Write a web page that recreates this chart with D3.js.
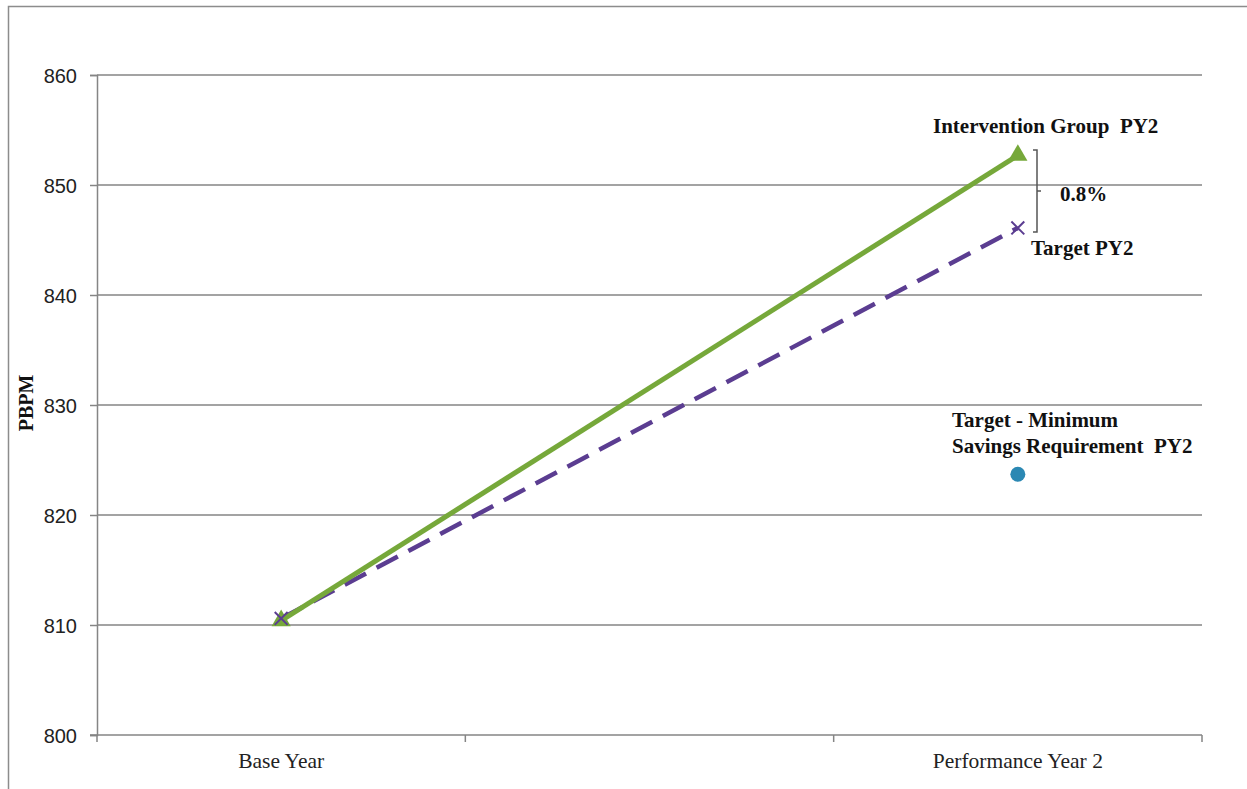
<!DOCTYPE html>
<html><head><meta charset="utf-8">
<script src="https://cdn.jsdelivr.net/npm/d3@7"></script>
<style>body{margin:0;background:#fff}svg{display:block}</style>
</head><body>
<script>
const categories = ["Base Year", "", "Performance Year 2"];
const interventionValues = [810.4, 852.7];
const targetValues = [810.6, 846.1];
const minSavingsValue = 823.7;
const yTicks = [800, 810, 820, 830, 840, 850, 860];
const bracketLabel = "0.8%";

const W = 1247, H = 789;
const svg = d3.select("body").append("svg").attr("width", W).attr("height", H);
svg.append("rect").attr("x", 8.5).attr("y", 6.5).attr("width", 1260).attr("height", 800)
  .attr("fill", "#fff").attr("stroke", "#8c8c8c").attr("stroke-width", 1.5);

const x = d3.scaleBand().domain(categories.map((d,i)=>i)).range([97, 1202]).padding(0);
const y = d3.scaleLinear().domain([800, 860]).range([735, 75]);
const cx = i => x(i) + x.bandwidth()/2;
const serif = "Liberation Serif, Times New Roman, serif";

// grid
svg.append("g").selectAll("line").data(yTicks.slice(1)).join("line")
  .attr("x1", 97).attr("x2", 1202).attr("y1", d=>y(d)).attr("y2", d=>y(d))
  .attr("stroke", "#858585").attr("stroke-width", 1.5);

// y axis
const ya = svg.append("g").attr("transform", "translate(97,0)")
  .call(d3.axisLeft(y).tickValues(yTicks).tickSize(7).tickPadding(13).tickFormat(d3.format("d")));
ya.select(".domain").attr("stroke", "#858585").attr("stroke-width", 1.5);
ya.selectAll(".tick line").attr("stroke", "#858585").attr("stroke-width", 1.5);
ya.selectAll("text").attr("font-family", "Liberation Sans, Arial, sans-serif").attr("font-size", 20).attr("fill", "#222").attr("dy", "0.35em");

// x axis
const xa = svg.append("g").attr("transform", "translate(0,735)");
xa.append("line").attr("x1", 90).attr("x2", 1202).attr("y1", 0).attr("y2", 0).attr("stroke", "#858585").attr("stroke-width", 1.5);
const bounds = [x(1), x(2), 1202];
xa.selectAll("line.t").data(bounds).join("line").attr("class","t")
  .attr("x1", d=>d).attr("x2", d=>d).attr("y1", 0).attr("y2", 7)
  .attr("stroke", "#858585").attr("stroke-width", 1.5);
xa.append("line").attr("x1", 97).attr("x2", 97).attr("y1", 0).attr("y2", 7).attr("stroke", "#858585").attr("stroke-width", 1.5);
xa.selectAll("text").data(categories.map((c,i)=>({c,i})).filter(d=>d.c)).join("text")
  .attr("x", d=>cx(d.i)).attr("y", 33).attr("text-anchor", "middle")
  .attr("font-family", serif).attr("font-size", 21.5).attr("fill", "#222")
  .text(d=>d.c);

// y label
svg.append("text").attr("transform", "translate(33,403) rotate(-90)").attr("text-anchor", "middle")
  .attr("font-family", serif).attr("font-weight", "bold").attr("font-size", 20)
  .attr("fill", "#111").text("PBPM");

const pos = [0, 2];
const line = d3.line().x((d,i)=>cx(pos[i])).y(d=>y(d));

// target dashed
svg.append("path").datum(targetValues).attr("d", line).attr("fill", "none")
  .attr("stroke", "#5b3d91").attr("stroke-width", 4.5).attr("stroke-dasharray", "24,12");
// intervention solid
svg.append("path").datum(interventionValues).attr("d", line).attr("fill", "none")
  .attr("stroke", "#76a83a").attr("stroke-width", 5);

// triangles
svg.selectAll("path.tri").data(interventionValues).join("path").attr("class","tri")
  .attr("d", d3.symbol().type(d3.symbolTriangle).size(160))
  .attr("transform", (d,i)=>`translate(${cx(pos[i])},${y(d)})`).attr("fill", "#76a83a");
// x markers
svg.selectAll("path.xm").data(targetValues).join("path").attr("class","xm")
  .attr("d", d3.symbol().type(d3.symbolTimes).size(110))
  .attr("transform", (d,i)=>`translate(${cx(pos[i])},${y(d)})`).attr("fill", "none")
  .attr("stroke", "#5b3d91").attr("stroke-width", 2);
// min savings dot
svg.append("circle").attr("cx", cx(2)).attr("cy", y(minSavingsValue)).attr("r", 7.5).attr("fill", "#2b88b3");

// labels
const lab = (t, xx, yy) => svg.append("text").attr("x", xx).attr("y", yy)
  .attr("font-family", serif).attr("font-weight", "bold")
  .attr("font-size", 21).attr("fill", "#111").attr("xml:space","preserve").text(t);
lab("Intervention Group  PY2", 933, 133);
lab("Target PY2", 1031, 255);
lab("Target - Minimum", 952, 427);
lab("Savings Requirement  PY2", 952, 453);
lab(bracketLabel, 1060, 201);

// bracket
const bx = 1037, by1 = 150, by2 = 232;
svg.append("path").attr("d", `M${bx-4},${by1}H${bx}V${by2}H${bx-4}M${bx},${(by1+by2)/2}H${bx+4}`)
  .attr("fill", "none").attr("stroke", "#555").attr("stroke-width", 1.5);
</script>
</body></html>
